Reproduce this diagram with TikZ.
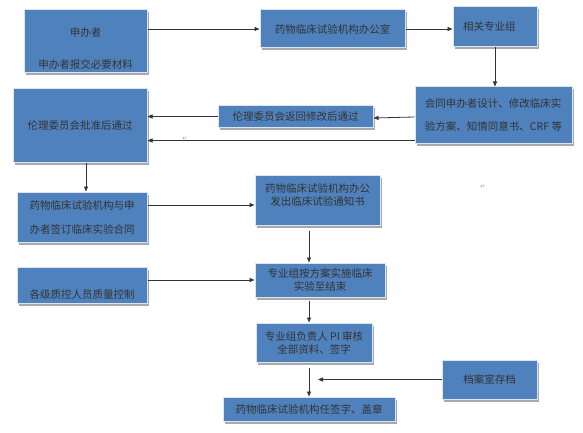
\documentclass[tikz,border=0pt]{standalone}
\usepackage{fontspec}
\newfontfamily\cjk{Noto Sans CJK SC}
\newfontfamily\symf{DejaVu Sans}
\usepackage{tikz}
\usetikzlibrary{arrows.meta,calc,shadows}
\definecolor{bxblue}{HTML}{4F81BD}
\definecolor{bxshade}{HTML}{A9A9A9}

\begin{document}
\begin{tikzpicture}[x=1pt,y=-1pt,
  bx/.style={rectangle,fill=bxblue,draw=white!80!bxblue,line width=1pt,
    drop shadow={shadow xshift=2pt,shadow yshift=-2.5pt,fill=bxshade,opacity=1},
    inner sep=2pt,font=\cjk\fontsize{10.5}{13}\selectfont,text=black!80,align=center},
  ar/.style={-{Triangle[length=5pt,width=4pt]},line width=0.8pt,black!80},
  pm/.style={font=\symf\fontsize{6}{6}\selectfont,text=black!40}]
\useasboundingbox (0,0) rectangle (583,433);
% top row: sponsor -> office -> group
\node[bx,minimum width=123pt,minimum height=63pt] (b1) at (85.5,41.5)
  {\rule{0pt}{23pt}申办者\\[19pt]申办者报交必要材料};
\node[bx,minimum width=145pt,minimum height=38pt] (b2) at (332.5,29) {药物临床试验机构办公室};
\node[bx,minimum width=84pt,minimum height=40pt,text width=64pt,inner xsep=10pt,align=left]
  (b3) at (495,27) {相关专业组};
\node[bx,minimum width=157pt,minimum height=56pt,align=left] (b4) at (493.5,115)
  {会同申办者设计、修改临床实\\[10pt]验方案、知情同意书、CRF 等};
\node[bx,minimum width=155pt,minimum height=21pt] (b5) at (295.5,116.5) {伦理委员会返回修改后通过};
\node[bx,minimum width=134pt,minimum height=73pt] (b6) at (80,125.5) {伦理委员会批准后通过};
% contract, notice, run
\node[bx,minimum width=130pt,minimum height=50pt] (b7) at (82,217)
  {药物临床试验机构与申\\[11pt]办者签订临床实验合同};
\node[bx,minimum width=125pt,minimum height=50pt] (b8) at (317.5,200)
  {药物临床试验机构办公\\发出临床试验通知书\rule[-10pt]{0pt}{10pt}};
\node[bx,minimum width=130pt,minimum height=36pt,text height=27pt,text depth=1pt]
  (b9) at (82,285) {各级质控人员质量控制};
\node[bx,minimum width=130pt,minimum height=34pt] (b10) at (320,280)
  {专业组按方案实施临床\\实验至结束};
\node[bx,minimum width=116pt,minimum height=39pt] (b11) at (314,342.5)
  {专业组负责人 PI 审核\\全部资料、签字};
\node[bx,minimum width=95pt,minimum height=39pt] (b12) at (489.5,379.5) {档案室存档};
\node[bx,minimum width=172pt,minimum height=24pt] (b13) at (309,409) {药物临床试验机构任签字、盖章};
\node[pm] (pm1) at (185,139) {↵};
\node[pm] (pm2) at (483,187) {↵};
% connectors
\draw[ar] (b1.east |- b2.west) -- (b2.west);
\draw[ar] (b2.east) -- (b2.east -| b3.west);
\draw[ar] (b3.south) -- (b3.south |- b4.north);
\draw[ar] ($(b4.west)+(0,2)$) -- ($(b5.east)+(0,1.5)$);
\draw[ar] (b5.west) -- (b5.west -| b6.east);
\coordinate (rt) at ($(b4.south west)+(0,-3)$);
\draw[ar] (rt) -- (rt -| b6.east);
\draw[ar] ($(b6.south)+(6,0)$) -- ($(b6.south |- b7.north)+(6,0)$);
\draw[ar] ($(b8.west -| b7.east)+(0,5)$) -- ($(b8.west)+(0,5)$);
\draw[ar] (b9.east |- b10.west) -- (b10.west);
\draw[ar,shorten <=5pt] (b13.north |- b8.south) -- (b13.north |- b10.north);
\draw[ar,shorten <=3pt] (b13.north |- b10.south) -- (b13.north |- b11.north);
\draw[ar,shorten <=5pt] (b13.north |- b11.south) -- (b13.north);
\draw[ar] (b12.west) -- ($(b13.north |- b12.west)+(9,0)$);
\end{tikzpicture}
\end{document}
